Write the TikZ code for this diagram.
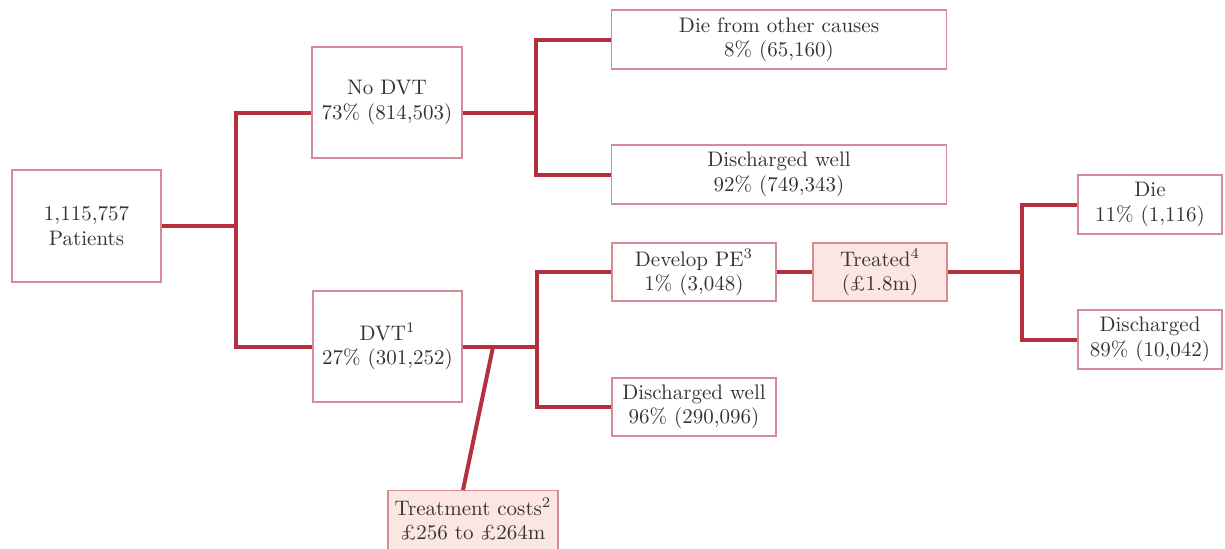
\documentclass[tikz,border=0pt]{standalone}
\usepackage{fontspec}
\definecolor{conn}{HTML}{B5303F}
\definecolor{boxline}{HTML}{D58A96}
\definecolor{boxfill}{HTML}{FBE6E2}
\definecolor{txt}{HTML}{333333}
\tikzset{
  box/.style={draw=boxline, line width=0.6pt, inner sep=0pt, align=center,
    text=txt, font=\fontsize{10.5}{12.2}\selectfont},
  fbox/.style={box, fill=boxfill},
  label/.style={inner sep=0pt, align=center, text=txt, font=\fontsize{10.5}{12.2}\selectfont},
  conn/.style={draw=conn, line width=2pt},
}
\begin{document}
\begin{tikzpicture}[x=0.5pt, y=-0.5pt]
\useasboundingbox (0,0) rectangle (1225,548);
% boxes: center and size in px
\node[box, minimum width=74.5pt, minimum height=56pt] (pat) at (86.5,226) {1,115,757\\Patients};
\node[box, minimum width=75pt, minimum height=55.5pt] (nodvt) at (387,102.5) {No DVT\\73\% (814,503)};
\node[box, minimum width=74.5pt, minimum height=55.5pt] (dvt) at (387.5,346.5) {DVT\textsuperscript{1}\\27\% (301,252)};
\node[box, minimum width=167.5pt, minimum height=29.5pt] (die1) at (779,39.5) {Die from other causes\\8\% (65,160)};
\node[box, minimum width=167.5pt, minimum height=29.5pt] (dis1) at (779,174.5) {Discharged well\\92\% (749,343)};
\node[box, minimum width=82pt, minimum height=29pt] (pe) at (694,272) {Develop PE\textsuperscript{3}\\1\% (3,048)};
\node[fbox, minimum width=67pt, minimum height=29pt] (treat) at (880,272) {Treated\textsuperscript{4}\\(£1.8m)};
\node[box, minimum width=82pt, minimum height=29pt] (dis2) at (694,407) {Discharged well\\96\% (290,096)};
\node[box, minimum width=72pt, minimum height=29.5pt] (die2) at (1150,204.5) {Die\\11\% (1,116)};
\node[box, minimum width=72pt, minimum height=29.5pt] (dis3) at (1150,339.5) {Discharged\\89\% (10,042)};
\node[fbox, minimum width=85pt, minimum height=36pt, anchor=north] (costbox) at (473,490) {};
\node[label] (cost) at (473,519) {Treatment costs\textsuperscript{2}\\£256 to £264m};
% junctions
\coordinate (j1) at (236,226);
\coordinate (j1t) at (236,113);
\coordinate (j1b) at (236,347);
\coordinate (j2) at (536,113);
\coordinate (j2t) at (536,39.5);
\coordinate (j2b) at (536,174.5);
\coordinate (j3) at (537,347);
\coordinate (j3t) at (537,272);
\coordinate (j3b) at (537,407);
\coordinate (jc) at (493,347);
\coordinate (j4) at (1022,272);
\coordinate (j4t) at (1022,204.5);
\coordinate (j4b) at (1022,339.5);
% connectors
\draw[conn] (pat.east |- j1) -- (j1);
\draw[conn] (nodvt.west |- j1t) -- (j1t) -- (j1b) -- (dvt.west |- j1b);
\draw[conn] (nodvt.east |- j2) -- (j2);
\draw[conn] (die1.west) -- (j2t) -- (j2b) -- (dis1.west);
\draw[conn] (dvt.east |- j3) -- (j3);
\draw[conn] (pe.west) -- (j3t) -- (j3b) -- (dis2.west);
\draw[conn] (jc) -- ([xshift=-5pt]costbox.north);
\draw[conn] (pe.east) -- (treat.west);
\draw[conn] (treat.east) -- (j4);
\draw[conn] (die2.west) -- (j4t) -- (j4b) -- (dis3.west);
\end{tikzpicture}
\end{document}
